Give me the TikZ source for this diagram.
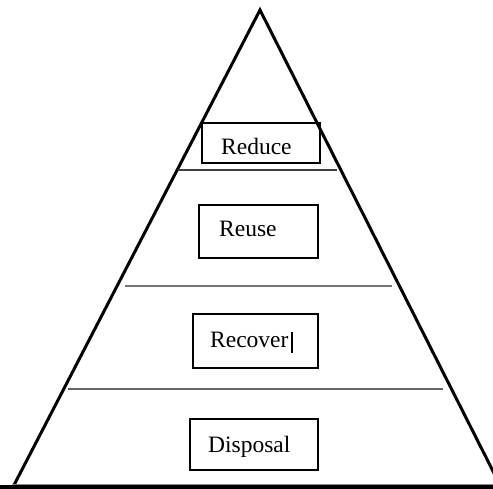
\documentclass[tikz,border=0pt]{standalone}
\usepackage{fontspec}
\setmainfont{Liberation Serif}
\begin{document}
\begin{tikzpicture}[x=1pt,y=-1pt,
  side/.style={line width=3pt,line join=miter},
  tier/.style={line width=1.8pt,draw=black!75},
  labelbox/.style={draw=black,line width=1.6pt,rectangle,inner sep=0pt},
  word/.style={anchor=base west,inner sep=0pt,font=\fontsize{23.5}{28}\selectfont}]
\useasboundingbox (0,0) rectangle (493,489);
\clip (0,0) rectangle (493,489);
\fill[white] (0,0) rectangle (493,489);

% outer triangle
\coordinate (apex) at (260,10);
\coordinate (bl) at (13,487);
\coordinate (br) at (501,487);
\draw[side] (bl) -- (apex) -- (br);
\draw[line width=3.2pt] (0,487) -- (493,487);
\draw[line width=0.8pt,black!45] (12,484.6) -- (493,484.6);

% tier dividers
\coordinate (d1l) at (178,170); \coordinate (d1r) at (337,170);
\coordinate (d2l) at (125,286); \coordinate (d2r) at (392,286);
\coordinate (d3l) at (68,389);  \coordinate (d3r) at (443,389);
\draw[tier] (d1l) -- (d1r);
\draw[tier,draw=black!55] (d2l) -- (d2r);
\draw[tier,draw=black!60] (d3l) -- (d3r);

% boxes
\node[labelbox,minimum width=118pt,minimum height=40pt] (reduce) at (261,143) {};
\node[labelbox,minimum width=119pt,minimum height=53pt] (reuse) at (258.5,231.5) {};
\node[labelbox,minimum width=125pt,minimum height=54pt] (recover) at (255.5,341) {};
\node[labelbox,minimum width=128pt,minimum height=51pt] (disposal) at (254,444.5) {};

% labels
\node[word] (treduce) at (221,155) {Reduce};
\node[word] (treuse) at (219,237) {Reuse};
\node[word] (trecover) at (210,348) {Recover};
\node[word] (tdisposal) at (208,452) {Disposal};

% text cursor after "Recover"
\coordinate (cur1) at (292,332);
\coordinate (cur2) at (292,353);
\draw[line width=1.1pt] (cur1) -- (cur2);
\end{tikzpicture}
\end{document}
